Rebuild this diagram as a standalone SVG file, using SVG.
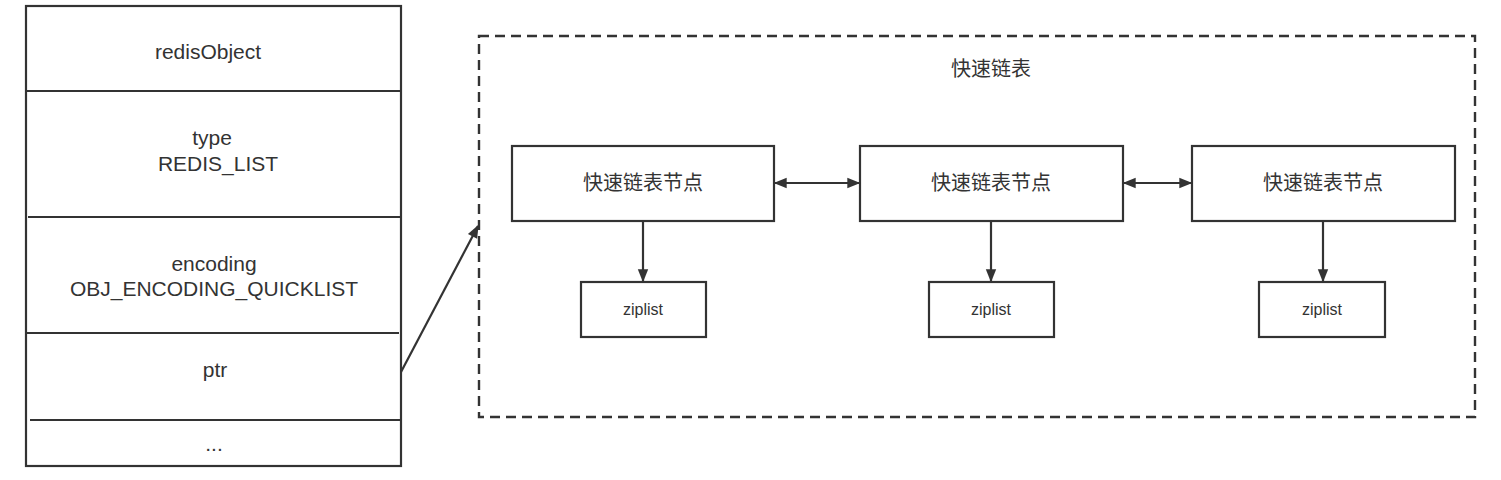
<svg xmlns="http://www.w3.org/2000/svg" width="1501" height="480" viewBox="0 0 1501 480">
<style>
.box{fill:#fff;stroke:#333;stroke-width:2.2}
.sep{stroke:#333;stroke-width:2.2;fill:none}
.t{font-family:"Liberation Sans","Noto Sans CJK SC",sans-serif;font-size:20px;fill:#333;text-anchor:middle;dominant-baseline:central}
.l{font-size:21px}
.s{font-size:16px}
.c{stroke:#333;stroke-width:2.2;fill:none}
</style>
<defs>
<marker id="ah2" viewBox="0 0 10 10" refX="9" refY="5" markerWidth="15" markerHeight="13" markerUnits="userSpaceOnUse" orient="auto-start-reverse">
<path d="M0,1 L10,5 L0,9 Z" fill="#333"/>
</marker>
</defs>
<rect width="1501" height="480" fill="#fff"/>
<g id="redisObject">
<rect class="box" x="26" y="6" width="375" height="460"/>
<line class="sep" x1="26" y1="91" x2="401" y2="91"/>
<line class="sep" x1="28" y1="217" x2="401" y2="217"/>
<line class="sep" x1="26" y1="333" x2="399" y2="333"/>
<line class="sep" x1="30" y1="420" x2="401" y2="420"/>
<text class="t l" x="208" y="51">redisObject</text>
<text class="t l" x="212" y="137">type</text>
<text class="t l" x="218" y="163">REDIS_LIST</text>
<text class="t l" x="214" y="263">encoding</text>
<text class="t l" x="214" y="288">OBJ_ENCODING_QUICKLIST</text>
<text class="t l" x="215" y="369">ptr</text>
<text class="t l" x="214" y="443">...</text>
</g>
<g id="quicklist">
<rect x="479" y="36" width="996" height="381" fill="none" stroke="#333" stroke-width="2.4" stroke-dasharray="10 6"/>
<text class="t" x="991" y="69">快速链表</text>
</g>
<g id="node1">
<rect class="box" x="512" y="146" width="262" height="75"/>
<text class="t" x="643" y="183">快速链表节点</text>
</g>
<g id="node2">
<rect class="box" x="860" y="146" width="263" height="75"/>
<text class="t" x="991" y="183">快速链表节点</text>
</g>
<g id="node3">
<rect class="box" x="1192" y="146" width="263" height="75"/>
<text class="t" x="1323" y="183">快速链表节点</text>
</g>
<g id="ziplist1">
<rect class="box" x="581" y="282" width="125" height="55"/>
<text class="t s" x="643" y="309">ziplist</text>
</g>
<g id="ziplist2">
<rect class="box" x="929" y="282" width="125" height="55"/>
<text class="t s" x="991" y="309">ziplist</text>
</g>
<g id="ziplist3">
<rect class="box" x="1259" y="282" width="126" height="55"/>
<text class="t s" x="1322" y="309">ziplist</text>
</g>
<g id="connectors">
<line class="c" x1="401" y1="372" x2="478" y2="226" marker-end="url(#ah2)"/>
<line class="c" x1="775" y1="183" x2="859" y2="183" marker-start="url(#ah2)" marker-end="url(#ah2)"/>
<line class="c" x1="1124" y1="183" x2="1191" y2="183" marker-start="url(#ah2)" marker-end="url(#ah2)"/>
<line class="c" x1="643" y1="221" x2="643" y2="281" marker-end="url(#ah2)"/>
<line class="c" x1="991" y1="221" x2="991" y2="281" marker-end="url(#ah2)"/>
<line class="c" x1="1323" y1="221" x2="1323" y2="281" marker-end="url(#ah2)"/>
</g>
</svg>
